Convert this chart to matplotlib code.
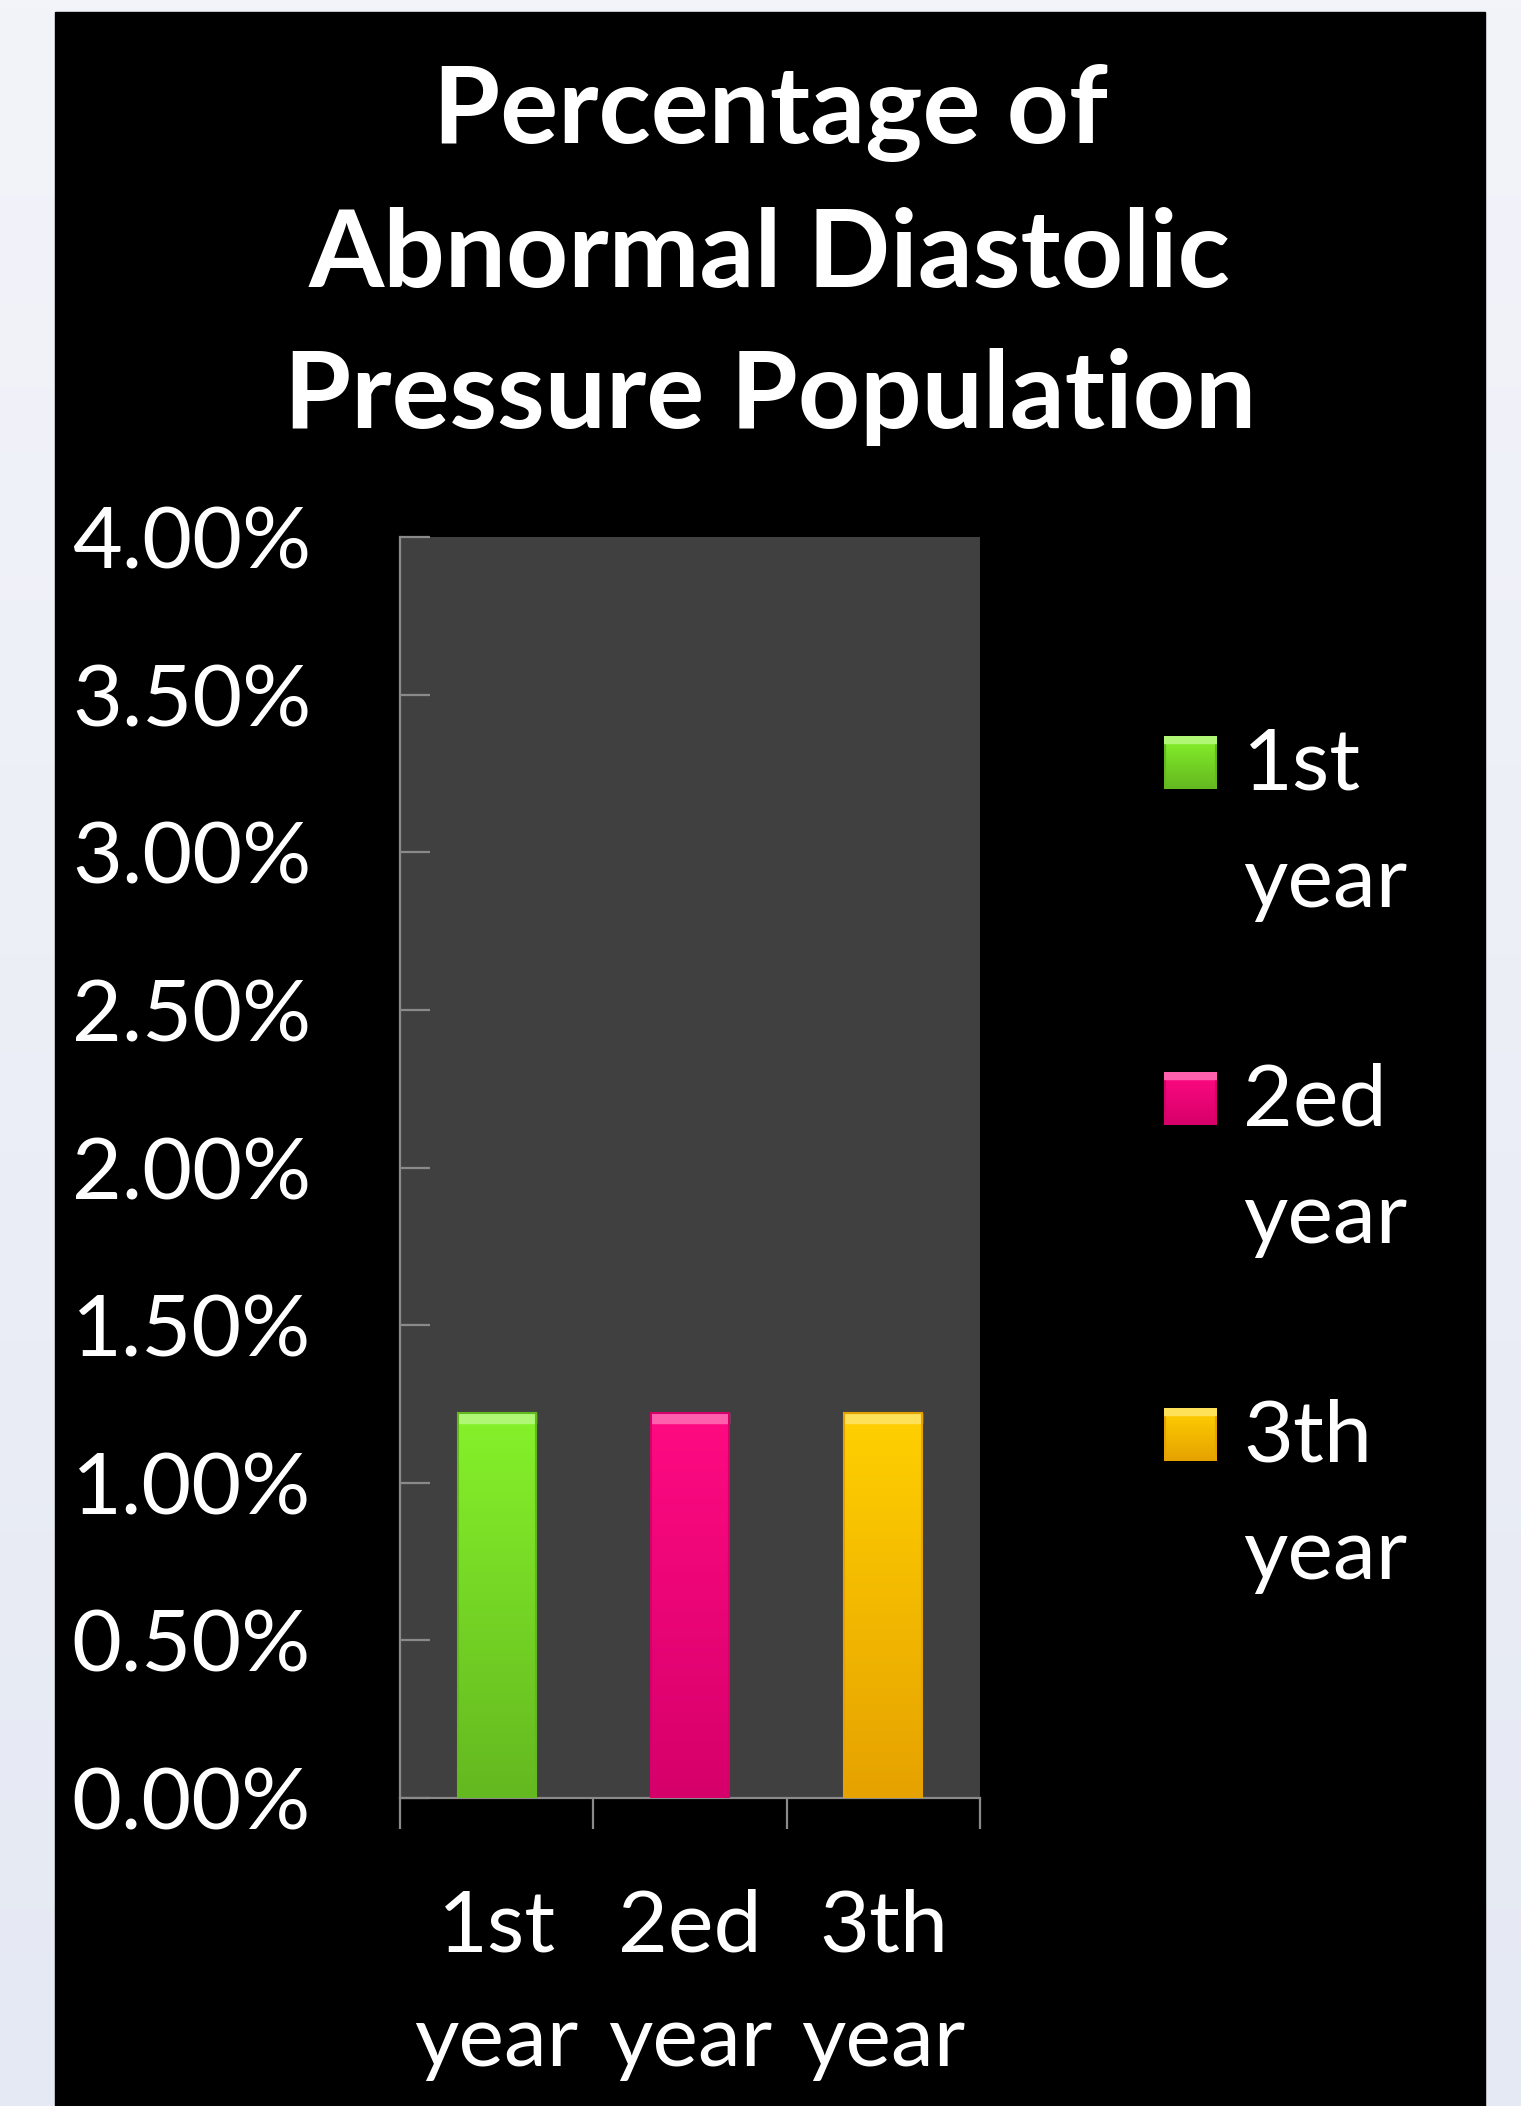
import matplotlib
matplotlib.use("Agg")
import matplotlib.pyplot as plt
import numpy as np
from matplotlib.patches import Rectangle
from matplotlib.colors import to_rgb
from matplotlib.ticker import PercentFormatter

# data
series = ["1st\nyear", "2ed\nyear", "3th\nyear"]
values = [1.22, 1.22, 1.22]          # percent
categories = ["1st\nyear", "2ed\nyear", "3th\nyear"]
yticks = [0, 0.5, 1.0, 1.5, 2.0, 2.5, 3.0, 3.5, 4.0]
top_colors = ["#86f22a", "#ff0a82", "#ffd000"]
bottom_colors = ["#64b820", "#d6006a", "#e6a200"]

W, H = 1521, 2106
FONT = "Lato"

def fx(px):
    return px / W

def fy(px):
    return 1 - px / H

def vgrad(c_top, c_bot, n=200):
    t, b = np.array(to_rgb(c_top)), np.array(to_rgb(c_bot))
    g = np.linspace(0, 1, n)[:, None, None]
    return t + (b - t) * g

fig = plt.figure(figsize=(W / 100, H / 100), dpi=100)

# light page background + black panel
bg = fig.add_axes([0, 0, 1, 1], zorder=-10)
bg.imshow(vgrad("#f3f4fa", "#e5e9f3", 256), aspect="auto", extent=[0, 1, 0, 1])
bg.add_patch(Rectangle((fx(55), 0), fx(1485) - fx(55), fy(12), color="black"))
bg.set_xlim(0, 1)
bg.set_ylim(0, 1)
bg.axis("off")

ax = fig.add_axes([fx(400), fy(1798), fx(980) - fx(400), fy(537) - fy(1798)])
ax.set_facecolor("#404040")

xs = np.arange(len(values)) + 0.5
bars = ax.bar(xs, values, width=0.405, color=top_colors, zorder=2)
for b, ct, cb in zip(bars, top_colors, bottom_colors):
    im = ax.imshow(vgrad(ct, cb), aspect="auto", zorder=3,
                   extent=[b.get_x(), b.get_x() + b.get_width(), 0, b.get_height()])
    im.set_clip_path(b)
    t = np.array(to_rgb(ct))
    # bevel highlight on top
    ax.add_patch(Rectangle((b.get_x(), b.get_height() - 0.03), b.get_width(), 0.03,
                           color=(t + (1 - t) * 0.35), zorder=4))
    # darker edges
    ax.add_patch(Rectangle((b.get_x(), 0), b.get_width(), b.get_height(),
                           fill=False, edgecolor=cb, linewidth=1.5, zorder=4))

ax.set_xlim(0, 3)
ax.set_ylim(0, 4)
ax.set_yticks(yticks)
ax.yaxis.set_major_formatter(PercentFormatter(decimals=2))
ax.set_xticks([0, 1, 2, 3])
ax.set_xticklabels([])

for s in ["top", "right"]:
    ax.spines[s].set_visible(False)
for s in ["left", "bottom"]:
    ax.spines[s].set_color("#8a8a8a")
    ax.spines[s].set_linewidth(1.6)
ax.tick_params(axis="y", direction="in", length=21.5, width=1.6, color="#8a8a8a",
               labelcolor="white", labelsize=62, pad=64)
ax.tick_params(axis="x", direction="out", length=22, width=1.6, color="#8a8a8a")
for lab in ax.get_yticklabels():
    lab.set_family(FONT)

# category labels (two lines each)
for i, cat in enumerate(categories):
    top, bottom = cat.split("\n")
    cx = fx(400) + (i + 0.5) / 3 * (fx(980) - fx(400))
    fig.text(cx, fy(1951), top, ha="center", va="baseline", color="white",
             fontsize=62, family=FONT)
    fig.text(cx, fy(2066), bottom, ha="center", va="baseline", color="white",
             fontsize=62, family=FONT)

# title
title_lines = ["Percentage of", "Abnormal Diastolic", "Pressure Population"]
for line, base in zip(title_lines, [143, 287, 428]):
    fig.text(fx(770), fy(base), line, ha="center", va="baseline", color="white",
             fontsize=78, fontweight="bold", family=FONT)

# legend (drawn by hand so the swatch lines up with the first text line)
for i, (name, ct, cb) in enumerate(zip(series, top_colors, bottom_colors)):
    base = 789 + i * 336
    lx, ly = fx(1164), fy(base)
    gax = fig.add_axes([lx, ly, fx(53), 53 / H], zorder=5)
    gax.imshow(vgrad(ct, cb), aspect="auto", extent=[0, 1, 0, 1])
    gax.add_patch(Rectangle((0, 0), 1, 1, fill=False, edgecolor=cb, linewidth=3))
    gax.add_patch(Rectangle((0, 0.86), 1, 0.14, color=np.array(to_rgb(ct)) * 0.65 + 0.35))
    gax.set_xlim(0, 1)
    gax.set_ylim(0, 1)
    gax.axis("off")
    first, second = name.split("\n")
    fig.text(fx(1243), fy(base), first, ha="left", va="baseline", color="white",
             fontsize=62, family=FONT)
    fig.text(fx(1243), fy(base + 118), second, ha="left", va="baseline",
             color="white", fontsize=62, family=FONT)

fig.savefig("out.png", dpi=100)
